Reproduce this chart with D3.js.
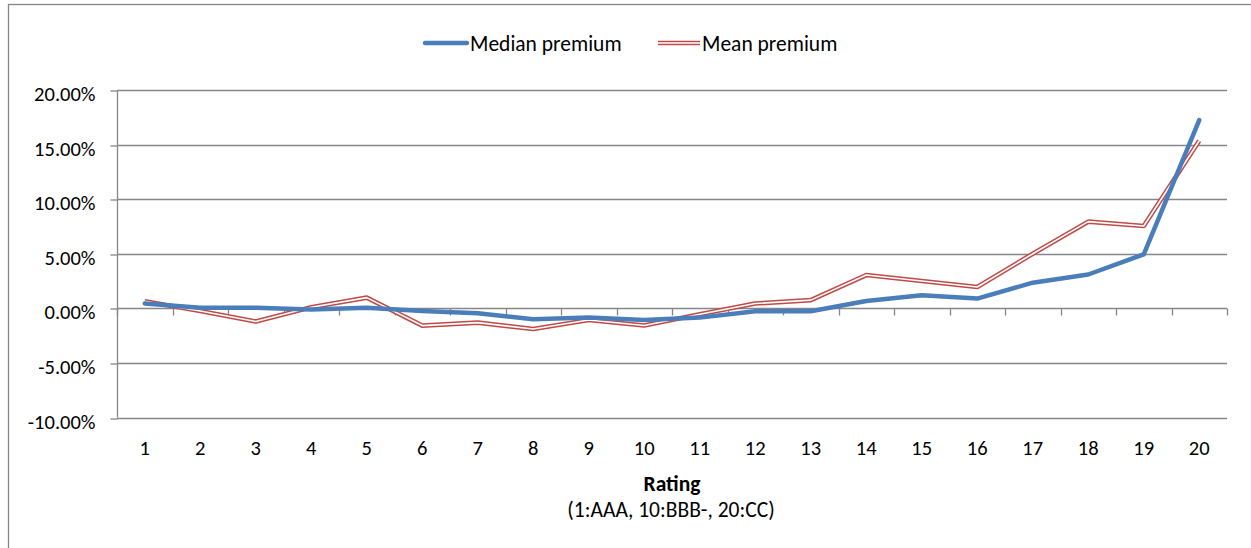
<!DOCTYPE html>
<html>
<head>
<meta charset="utf-8">
<script src="https://cdn.jsdelivr.net/npm/d3@7"></script>
<style>
  html, body { margin: 0; padding: 0; background: #fff; }
  svg { display: block; }
  text { font-family: Carlito, Calibri, Lato, "Open Sans", sans-serif; fill: #000; }
</style>
</head>
<body>
<svg id="chart" width="1251" height="548"></svg>
<script>
// Rating buckets 1 (AAA) .. 20 (CC)
const ratings = ["1","2","3","4","5","6","7","8","9","10","11","12","13","14","15","16","17","18","19","20"];
// Premium values in percent
const medianPremium = [0.45, 0.05, 0.05, -0.1, 0.05, -0.25, -0.45, -1.0, -0.85, -1.07, -0.85, -0.27, -0.27, 0.67, 1.19, 0.89, 2.35, 3.1, 4.95, 17.25];
const meanPremium   = [0.64, -0.25, -1.2, 0.1, 0.98, -1.58, -1.31, -1.9, -1.07, -1.57, -0.55, 0.44, 0.75, 3.05, 2.5, 1.95, 5.0, 7.94, 7.54, 15.35];
const yTicks = [-10, -5, 0, 5, 10, 15, 20];
const seriesNames = ["Median premium", "Mean premium"];

const svg = d3.select("#chart");
const gray = "#868686";
const blue = "#4a7ebb";
const red = "#be4b48";

// Outer chart frame
svg.append("rect")
  .attr("x", 8.5).attr("y", 4.5)
  .attr("width", 1260).attr("height", 560)
  .attr("fill", "none").attr("stroke", gray).attr("stroke-width", 1.3);

const left = 117, right = 1227;
const x = d3.scaleBand().domain(ratings).range([left, right]);
const y = d3.scaleLinear().domain([-10, 20]).range([417.5, 90]);
const fmt = v => v.toFixed(2) + "%";

// Horizontal gridlines
svg.append("g").selectAll("line").data(yTicks).join("line")
  .attr("x1", left).attr("x2", right)
  .attr("y1", d => Math.round(y(d)) + 0.5).attr("y2", d => Math.round(y(d)) + 0.5)
  .attr("stroke", gray).attr("stroke-width", 1.3);

// Vertical value axis
const yAxis = d3.axisLeft(y).tickValues(yTicks).tickFormat(fmt).tickSize(7).tickPadding(15);
const yg = svg.append("g").attr("transform", `translate(${left + 0.5},0)`).call(yAxis);
yg.select(".domain").attr("stroke", gray).attr("stroke-width", 1.3).attr("d", `M0,${y(20)}V${y(-10)}`);
yg.selectAll(".tick line").attr("stroke", gray).attr("stroke-width", 1.3)
  .attr("transform", function(d){ return `translate(0,${Math.round(y(d)) + 0.5 - y(d)})`; });
yg.selectAll(".tick text")
  .attr("font-size", 20.5).attr("fill", "#000").attr("dy", 10.5)
  .style("font-family", "Carlito, Calibri, Lato, sans-serif");

// Category axis crossing at 0%
const y0 = Math.round(y(0)) + 0.5;
const xg = svg.append("g").attr("transform", `translate(0,${y0})`);
const bounds = d3.range(ratings.length + 1).map(i => left + i * x.bandwidth());
xg.selectAll("line.tk").data(bounds).join("line").attr("class", "tk")
  .attr("x1", d => Math.round(d) + 0.5).attr("x2", d => Math.round(d) + 0.5)
  .attr("y1", 0).attr("y2", 7)
  .attr("stroke", gray).attr("stroke-width", 1.3);

// Category labels along the bottom
svg.append("g").selectAll("text").data(ratings).join("text")
  .attr("x", d => x(d) + x.bandwidth() / 2)
  .attr("y", 455)
  .attr("text-anchor", "middle")
  .attr("font-size", 20.5)
  .text(d => d);

// Axis title
svg.append("text").attr("x", 672).attr("y", 491).attr("text-anchor", "middle")
  .attr("font-size", 21.5).attr("font-weight", "bold").text("Rating");
svg.append("text").attr("x", 671).attr("y", 517).attr("text-anchor", "middle")
  .attr("font-size", 21.5).text("(1:AAA, 10:BBB-, 20:CC)");

const line = d3.line()
  .x((d, i) => x(ratings[i]) + x.bandwidth() / 2)
  .y(d => y(d));

// Mean premium: red double line
svg.append("path").datum(meanPremium).attr("d", line)
  .attr("fill", "none").attr("stroke", red).attr("stroke-width", 4.6).attr("stroke-linejoin", "round");
svg.append("path").datum(meanPremium).attr("d", line)
  .attr("fill", "none").attr("stroke", "#fff").attr("stroke-width", 1.6).attr("stroke-linejoin", "round");

// Median premium: thick blue line
svg.append("path").datum(medianPremium).attr("d", line)
  .attr("fill", "none").attr("stroke", blue).attr("stroke-width", 4.5)
  .attr("stroke-linejoin", "round").attr("stroke-linecap", "round");

// Legend
const lg = svg.append("g");
lg.append("line").attr("x1", 425).attr("x2", 467).attr("y1", 43).attr("y2", 43)
  .attr("stroke", blue).attr("stroke-width", 4.5).attr("stroke-linecap", "round");
lg.append("text").attr("x", 470).attr("y", 51).attr("font-size", 21.5).text(seriesNames[0]);
lg.append("line").attr("x1", 658).attr("x2", 700).attr("y1", 43).attr("y2", 43)
  .attr("stroke", red).attr("stroke-width", 4.6);
lg.append("line").attr("x1", 658).attr("x2", 700).attr("y1", 43).attr("y2", 43)
  .attr("stroke", "#fff").attr("stroke-width", 1.6);
lg.append("text").attr("x", 702).attr("y", 51).attr("font-size", 21.5).text(seriesNames[1]);
</script>
</body>
</html>
